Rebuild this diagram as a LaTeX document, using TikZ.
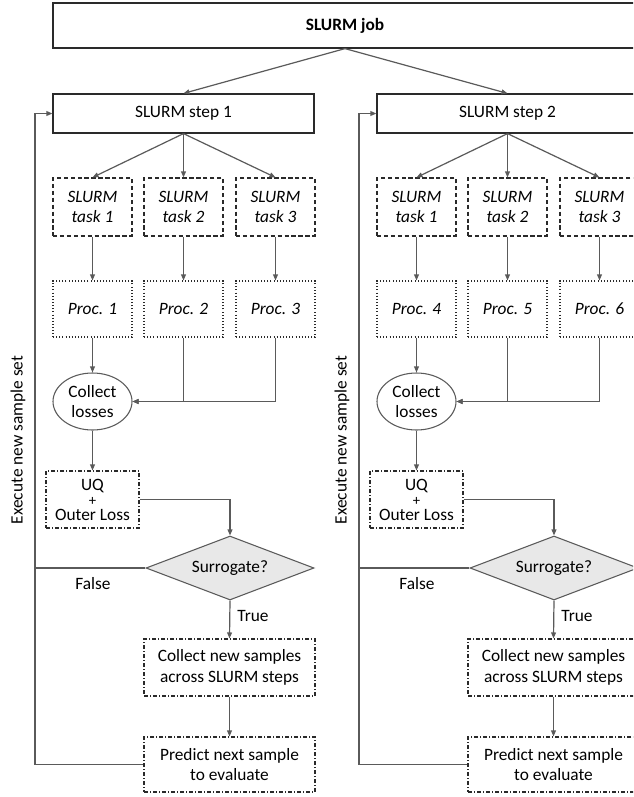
\documentclass[tikz,border=0pt]{standalone}
\usepackage{fontspec}
\setmainfont{Carlito}
\usetikzlibrary{arrows.meta,shapes.geometric}
\definecolor{ln}{HTML}{5A5A5A}
\definecolor{bd}{HTML}{2A2A2A}
\definecolor{dfill}{HTML}{E8E8E8}
\tikzset{
  txt/.style={font=\fontsize{13}{15.5}\selectfont, align=center, inner sep=0pt},
  jobbox/.style={txt, draw=bd, line width=0.9pt, minimum width=438pt, minimum height=33.75pt},
  stepbox/.style={txt, draw=bd, line width=0.9pt, minimum width=195.75pt, minimum height=29.25pt},
  taskbox/.style={txt, font=\fontsize{13}{15.5}\selectfont\itshape, draw=bd, line width=0.85pt,
    dash pattern=on 3.2pt off 2pt, minimum width=59.25pt, minimum height=43.5pt},
  procbox/.style={txt, font=\fontsize{13}{15.5}\selectfont\itshape, draw=bd, line width=0.8pt,
    dash pattern=on 0.75pt off 1.6pt, minimum width=59.25pt, minimum height=42pt},
  collbox/.style={txt, ellipse, draw=ln, line width=0.8pt, minimum width=59.25pt, minimum height=42.75pt},
  ddbox/.style={txt, draw=bd, line width=0.8pt,
    dash pattern=on 3pt off 1.5pt on 0.75pt off 1.5pt, minimum height=42.75pt},
  surr/.style={txt, diamond, aspect=2.6, draw=ln, fill=dfill, line width=0.8pt,
    minimum width=126pt, minimum height=48pt},
  conn/.style={draw=ln, line width=0.9pt},
  arr/.style={conn, -{Triangle[length=4.5pt,width=3.6pt]}},
}
\newcommand\slcolumn[5]{%
\begin{scope}[xshift=#2]
  \node[stepbox] (step#1) at (183.5,113.5) {SLURM step #1};
  \node[taskbox] (ta#1) at (92.5,207) {SLURM\\task 1};
  \node[taskbox] (tb#1) at (183.5,207) {SLURM\\task 2};
  \node[taskbox] (tc#1) at (275.5,207) {SLURM\\task 3};
  \node[procbox] (pa#1) at (92.5,309) {Proc. #3};
  \node[procbox] (pb#1) at (183.5,309) {Proc. #4};
  \node[procbox] (pc#1) at (275.5,309) {Proc. #5};
  \node[collbox] (cl#1) at (92.5,401.5) {Collect\\losses};
  \node[ddbox, font=\fontsize{13}{11.2}\selectfont, minimum width=69.75pt] (uq#1) at (92.5,499.5) {UQ\\{\fontsize{11}{11.2}\selectfont +}\\Outer Loss};
  \node[surr] (su#1) at (230,568) {Surrogate?};
  \node[ddbox, minimum width=128.25pt] (cn#1) at (229.5,667.5) {Collect new samples\\across SLURM steps};
  \node[ddbox, minimum width=128.25pt, minimum height=41.25pt] (pr#1) at (229.5,764.5) {Predict next sample\\to evaluate};
  \coordinate (lp#1) at (35,113.5);
  \node[txt, rotate=90] (ex#1) at (18,440) {Execute new sample set};
  \node[txt] (fa#1) at (93,584) {False};
  \node[txt] (tr#1) at (253,616) {True};
  \draw[arr] (step#1.south) -- (ta#1.north);
  \draw[arr] (step#1.south) -- (tb#1.north);
  \draw[arr] (step#1.south) -- (tc#1.north);
  \draw[arr] (ta#1) -- (pa#1);
  \draw[arr] (tb#1) -- (pb#1);
  \draw[arr] (tc#1) -- (pc#1);
  \draw[arr] (pa#1) -- (cl#1);
  \draw[arr] (pc#1.south) |- (cl#1.east);
  \draw[arr] (pb#1.south) |- (cl#1.east);
  \draw[arr] (cl#1) -- (uq#1);
  \draw[arr] (uq#1.east) -| (su#1.north);
  \draw[arr] (su#1.south) -- (cn#1.north);
  \draw[arr] (cn#1) -- (pr#1);
  \draw[arr] (pr#1.west) -| (lp#1) -- (step#1.west);
  \draw[conn] (su#1.west) -- (su#1.west -| lp#1);
\end{scope}}
\begin{document}
\begin{tikzpicture}[x=0.75pt, y=-0.75pt]
  \useasboundingbox (0,0) rectangle (633,797);
  \fill[white] (0,0) rectangle (633,797);
  \clip (0,0) rectangle (633,797);
  \node[jobbox] (job) at (345,25.5) {\bfseries SLURM job};
  \slcolumn{1}{0pt}{1}{2}{3}
  \slcolumn{2}{243pt}{4}{5}{6}
  \draw[arr] (job.south) -- (step1.north);
  \draw[arr] (job.south) -- (step2.north);
\end{tikzpicture}
\end{document}
